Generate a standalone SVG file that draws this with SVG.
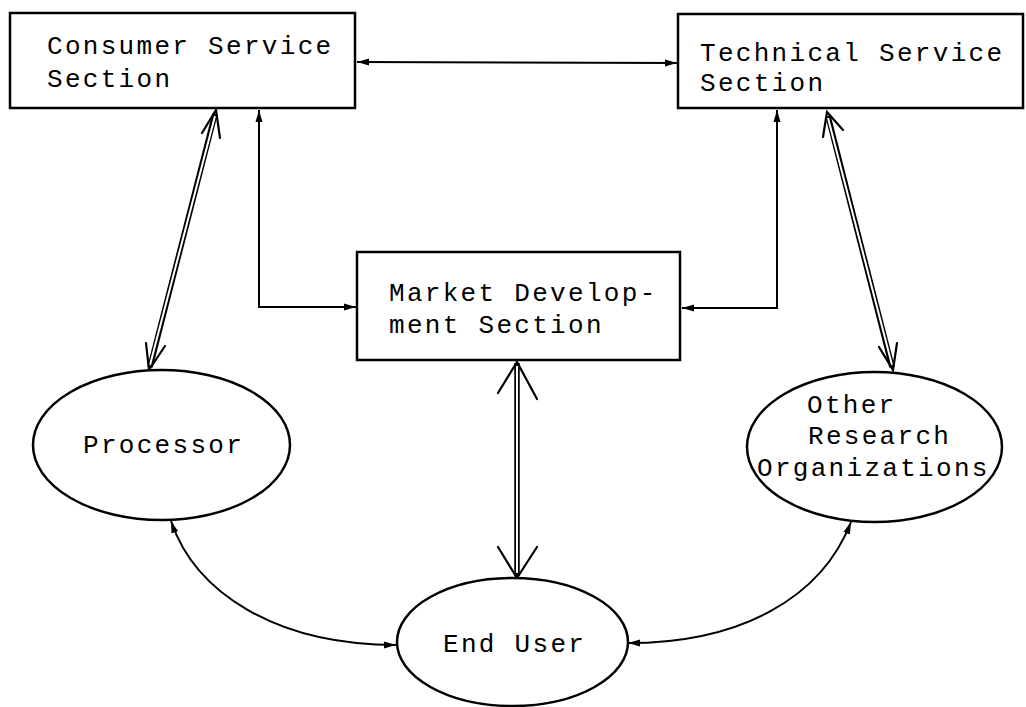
<svg xmlns="http://www.w3.org/2000/svg" width="1026" height="707" viewBox="0 0 1026 707">
  <style>
    .box { fill: #fff; stroke: #000; stroke-width: 2.5; }
    .oval { fill: #fff; stroke: #000; stroke-width: 2.5; }
    .lbl { font-family: "Liberation Mono", "DejaVu Sans Mono", monospace; font-size: 26px; letter-spacing: 2.3px; fill: #000; }
    .wire { fill: none; stroke: #000; stroke-width: 2; }
    .dbl-outer { fill: none; stroke: #000; stroke-width: 5.5; }
    .dbl-inner { fill: none; stroke: #fff; stroke-width: 2; }
    .head { fill: none; stroke: #000; stroke-width: 2.2; stroke-linecap: round; }
  </style>
  <defs>
    <marker id="tip" markerUnits="userSpaceOnUse" markerWidth="14" markerHeight="10" refX="12" refY="5" orient="auto-start-reverse">
      <path d="M0,1.5 L12,5 L0,8.5 Z" fill="#000"/>
    </marker>
  </defs>

  <rect width="1026" height="707" fill="#fff"/>

  <!-- connectors -->
  <g id="connectors">
    <!-- Consumer <-> Technical -->
    <line class="wire" x1="357" y1="62" x2="677" y2="63" marker-start="url(#tip)" marker-end="url(#tip)"/>
    <!-- Consumer <-> Market Development -->
    <polyline class="wire" points="259,110 259,307 356,307" marker-start="url(#tip)" marker-end="url(#tip)"/>
    <!-- Technical <-> Market Development -->
    <polyline class="wire" points="777,110 777,308 682,308" marker-start="url(#tip)" marker-end="url(#tip)"/>

    <!-- Consumer <=> Processor (double line) -->
    <line class="dbl-outer" x1="215" y1="114" x2="150" y2="367"/>
    <line class="dbl-inner" x1="215" y1="116" x2="150" y2="365"/>
    <polyline class="head" points="202,133 216,110 220,138"/>
    <polyline class="head" points="146,343 149,370 165,346"/>

    <!-- Technical <=> Other Research (double line) -->
    <line class="dbl-outer" x1="828" y1="116" x2="892" y2="367"/>
    <line class="dbl-inner" x1="828" y1="118" x2="892" y2="365"/>
    <polyline class="head" points="823,137 827,112 843,130"/>
    <polyline class="head" points="879,347 893,370 897,343"/>

    <!-- Market Development <=> End User (double line) -->
    <line class="dbl-outer" x1="517" y1="363" x2="517" y2="576"/>
    <line class="dbl-inner" x1="517" y1="366" x2="517" y2="573"/>
    <polyline class="head" points="498,393 517,362 537,399"/>
    <polyline class="head" points="498,547 517,578 537,547"/>

    <!-- Processor <-> End User -->
    <path class="wire" d="M171,521 C195,592 275,645 396,645" marker-start="url(#tip)" marker-end="url(#tip)"/>
    <!-- Other Research <-> End User -->
    <path class="wire" d="M851,522 C822,597 742,643 628,643" marker-start="url(#tip)" marker-end="url(#tip)"/>
  </g>

  <!-- nodes -->
  <g id="consumer-service">
    <rect class="box" x="10" y="13" width="345" height="95"/>
    <text class="lbl" x="47" y="54">Consumer Service</text>
    <text class="lbl" x="47" y="87">Section</text>
  </g>

  <g id="technical-service">
    <rect class="box" x="678" y="14" width="345" height="94"/>
    <text class="lbl" x="700" y="61">Technical Service</text>
    <text class="lbl" x="700" y="91">Section</text>
  </g>

  <g id="market-development">
    <rect class="box" x="357" y="252" width="323" height="108"/>
    <text class="lbl" x="389" y="301">Market Develop-</text>
    <text class="lbl" x="389" y="333">ment Section</text>
  </g>

  <g id="processor">
    <ellipse class="oval" cx="161.5" cy="445" rx="128.5" ry="75"/>
    <text class="lbl" x="83" y="453">Processor</text>
  </g>

  <g id="other-research">
    <ellipse class="oval" cx="874.5" cy="447" rx="127.5" ry="75"/>
    <text class="lbl" x="807" y="413">Other</text>
    <text class="lbl" x="808" y="444">Research</text>
    <text class="lbl" x="757" y="476">Organizations</text>
  </g>

  <g id="end-user">
    <ellipse class="oval" cx="512.5" cy="642" rx="115.5" ry="64"/>
    <text class="lbl" x="443" y="652">End User</text>
  </g>
</svg>
